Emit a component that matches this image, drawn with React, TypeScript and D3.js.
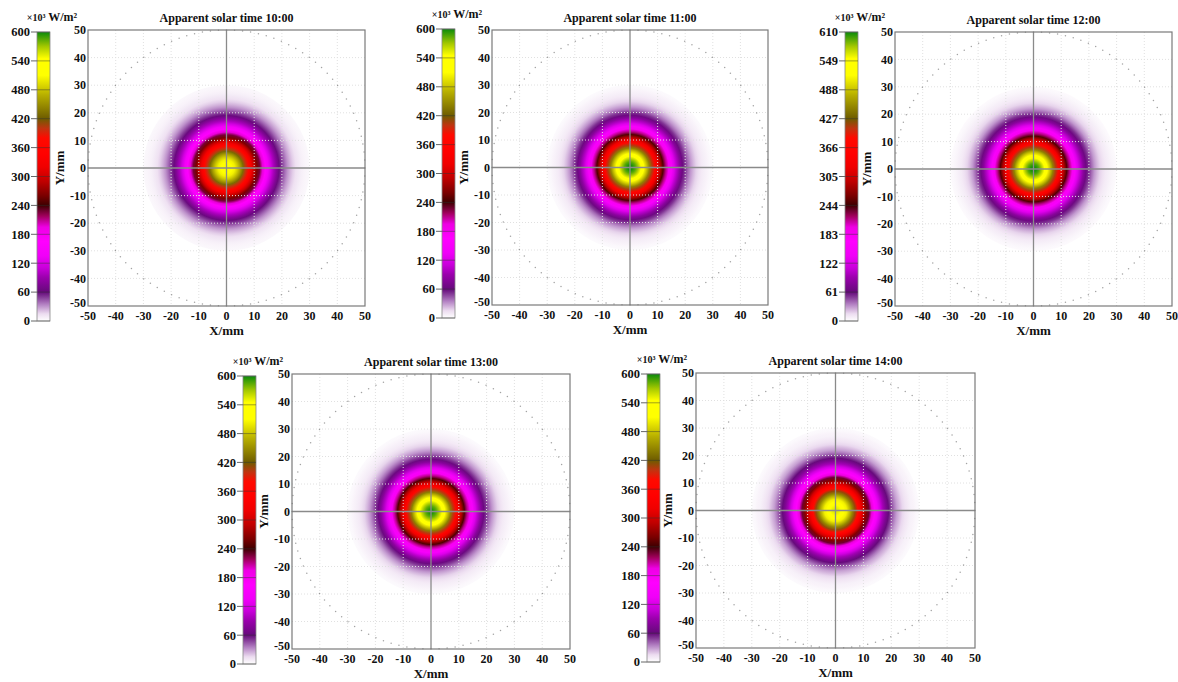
import * as d3 from 'd3';

// radial flux profiles, radius in mm, flux in x10^3 W/m^2
const radii = [0, 1, 2, 3, 4, 5, 6, 7, 8, 9, 10, 11, 12, 13, 14, 15, 16, 17, 18, 19, 20, 21, 22, 23, 24, 25, 26, 27, 28, 29, 30];
const flux1000 = [530, 527, 518, 503, 483, 458, 429, 398, 365, 329, 294, 260, 227, 197, 167, 141, 117, 97, 79, 63, 50, 40, 31, 24, 18, 13, 10, 7, 5, 4, 3];
const flux1100 = [600, 596, 585, 568, 544, 514, 480, 443, 404, 364, 324, 284, 247, 211, 179, 150, 124, 101, 81, 65, 51, 39, 30, 23, 17, 13, 9, 7, 5, 3, 2];
const flux1200 = [610, 606, 595, 577, 553, 523, 488, 450, 411, 370, 329, 289, 251, 215, 182, 153, 126, 103, 82, 66, 52, 40, 30, 23, 17, 13, 9, 7, 5, 3, 2];
const flux1300 = [598, 594, 583, 566, 542, 512, 478, 441, 402, 362, 322, 283, 246, 210, 178, 149, 123, 100, 80, 64, 50, 39, 30, 23, 17, 13, 9, 7, 5, 3, 2];
const flux1400 = [555, 552, 542, 525, 503, 476, 445, 411, 375, 337, 301, 264, 229, 196, 167, 139, 115, 94, 76, 61, 48, 37, 28, 22, 16, 12, 9, 6, 5, 3, 2];

const titles = [
  'Apparent solar time 10:00',
  'Apparent solar time 11:00',
  'Apparent solar time 12:00',
  'Apparent solar time 13:00',
  'Apparent solar time 14:00',
];
const barMax = [600, 600, 610, 600, 600];
const profiles = [flux1000, flux1100, flux1200, flux1300, flux1400];
const axisTicks = [-50, -40, -30, -20, -10, 0, 10, 20, 30, 40, 50];

// colour map, positions on a 0..600 bar
const cmapPos = [0, 15, 35, 60, 90, 110, 135, 165, 195, 218, 240, 260, 290, 320, 345, 380, 400, 420, 470, 510, 545, 570, 600];
const cmapColors = [
  '#ffffff', '#ecdcf0', '#b27fc2', '#650a7a', '#9a00ac', '#c800da', '#f000f8', '#ff00ff', '#ee00e4', '#a0005c',
  '#3e0000', '#7a0000', '#c00000', '#f00000', '#ff0000', '#ff0a00', '#c03410', '#6e5c00', '#b8b000', '#ffff00',
  '#ffff00', '#a4c800', '#0a8a0a',
];

// panel boxes: plot area + colour bar
const layouts = [
  { x0: 88, x1: 365, y0: 30, y1: 306, bx: 37, bTop: 32, bBot: 321 },
  { x0: 492, x1: 768, y0: 30, y1: 305, bx: 442, bTop: 29, bBot: 318 },
  { x0: 895, x1: 1172, y0: 32, y1: 306, bx: 845, bTop: 32, bBot: 321 },
  { x0: 292, x1: 570, y0: 374, y1: 649, bx: 243, bTop: 376, bBot: 664 },
  { x0: 696, x1: 975, y0: 373, y1: 648, bx: 647, bTop: 374, bBot: 662 },
];

const FONT = "'Liberation Serif', 'Times New Roman', serif";
const BAR_W = 13;

function Panel({ idx }: { idx: number }) {
  const L = layouts[idx];
  const max = barMax[idx];
  const profile = profiles[idx];

  const x = d3.scaleLinear().domain([-50, 50]).range([L.x0, L.x1]);
  const y = d3.scaleLinear().domain([-50, 50]).range([L.y1, L.y0]);
  const cbar = d3.scaleLinear().domain([0, max]).range([L.bBot, L.bTop]);
  const color = d3
    .scaleLinear<string>()
    .domain(cmapPos.map(p => (p * max) / 600))
    .range(cmapColors)
    .interpolate(d3.interpolateRgb)
    .clamp(true);

  const rMax = radii[radii.length - 1];
  const barTicks = d3.range(0, 11).map(k => (k * max) / 10);
  const dots = d3.range(108).map(k => (k / 108) * Math.PI * 2);
  const grid = axisTicks.filter(v => v !== 0 && Math.abs(v) !== 50);

  return (
    <g>
      <defs>
        <radialGradient id={`heat${idx}`} cx="50%" cy="50%" r="50%">
          {radii.map((r, i) => (
            <stop key={i} offset={r / rMax} stopColor={color(profile[i])} />
          ))}
        </radialGradient>
        <linearGradient id={`bar${idx}`} x1="0" y1="1" x2="0" y2="0">
          {cmapPos.map((p, i) => (
            <stop key={i} offset={p / 600} stopColor={cmapColors[i]} />
          ))}
        </linearGradient>
      </defs>

      {/* flux map */}
      <rect x={L.x0} y={L.y0} width={L.x1 - L.x0} height={L.y1 - L.y0} fill="#fff" />
      <ellipse
        cx={x(0)}
        cy={y(0)}
        rx={x(rMax) - x(0)}
        ry={y(0) - y(rMax)}
        fill={`url(#heat${idx})`}
      />

      {/* dotted grid */}
      {grid.map(v => (
        <g key={v}>
          <line x1={x(v)} x2={x(v)} y1={L.y0} y2={L.y1} stroke="#e0e0e0" strokeDasharray="1 2" />
          <line x1={L.x0} x2={L.x1} y1={y(v)} y2={y(v)} stroke="#e0e0e0" strokeDasharray="1 2" />
        </g>
      ))}

      {/* aperture ring of dots */}
      {dots.map((a, k) => (
        <circle key={k} cx={x(50 * Math.cos(a))} cy={y(50 * Math.sin(a))} r={0.75} fill="#666" opacity={0.6} />
      ))}

      {/* centre lines */}
      <line x1={x(0)} x2={x(0)} y1={L.y0} y2={L.y1} stroke="#8a8a8a" strokeWidth={1.3} />
      <line x1={L.x0} x2={L.x1} y1={y(0)} y2={y(0)} stroke="#8a8a8a" strokeWidth={1.3} />

      <rect x={L.x0} y={L.y0} width={L.x1 - L.x0} height={L.y1 - L.y0} fill="none" stroke="#7a7a7a" strokeWidth={1.2} />

      {/* axes labels */}
      <g fontFamily={FONT} fontWeight="bold" fontSize={12} fill="#111">
        {axisTicks.map(v => (
          <text key={`y${v}`} x={L.x0 - 2} y={v === -50 ? y(v) - 3 : y(v)} dy="0.35em" textAnchor="end">
            {v}
          </text>
        ))}
        {axisTicks.map(v => (
          <text key={`x${v}`} x={x(v)} y={L.y1 + 14} textAnchor="middle">
            {v}
          </text>
        ))}
        <text x={(L.x0 + L.x1) / 2} y={L.y1 + 29} textAnchor="middle" fontSize={13}>
          X/mm
        </text>
        <text
          transform={`translate(${L.x0 - 24},${(L.y0 + L.y1) / 2}) rotate(-90)`}
          textAnchor="middle"
          fontSize={13}
        >
          Y/mm
        </text>
        <text x={(L.x0 + L.x1) / 2} y={L.y0 - 8} textAnchor="middle" fontSize={12}>
          {titles[idx]}
        </text>
      </g>

      {/* colour bar */}
      <rect x={L.bx} y={L.bTop} width={BAR_W} height={L.bBot - L.bTop} fill={`url(#bar${idx})`} stroke="#888" strokeWidth={0.8} />
      <g fontFamily={FONT} fontWeight="bold" fontSize={12.5} fill="#111">
        {barTicks.map(v => (
          <g key={v}>
            <line x1={L.bx - 6} x2={L.bx} y1={cbar(v)} y2={cbar(v)} stroke="#666" />
            <line x1={L.bx} x2={L.bx + BAR_W} y1={cbar(v)} y2={cbar(v)} stroke="#333" opacity={0.45} />
            <text x={L.bx - 7} y={cbar(v)} dy="0.35em" textAnchor="end">
              {v}
            </text>
          </g>
        ))}
        <text x={L.bx + 15} y={L.bTop - 11} textAnchor="middle" fontSize={12}>
          <tspan fontSize={10}>×10³</tspan> W/m²
        </text>
      </g>
    </g>
  );
}

export default function App() {
  return (
    <svg
      width={1178}
      height={682}
      style={{ position: 'absolute', left: 0, top: 0, background: '#fff' }}
    >
      {layouts.map((_, i) => (
        <Panel key={i} idx={i} />
      ))}
    </svg>
  );
}
